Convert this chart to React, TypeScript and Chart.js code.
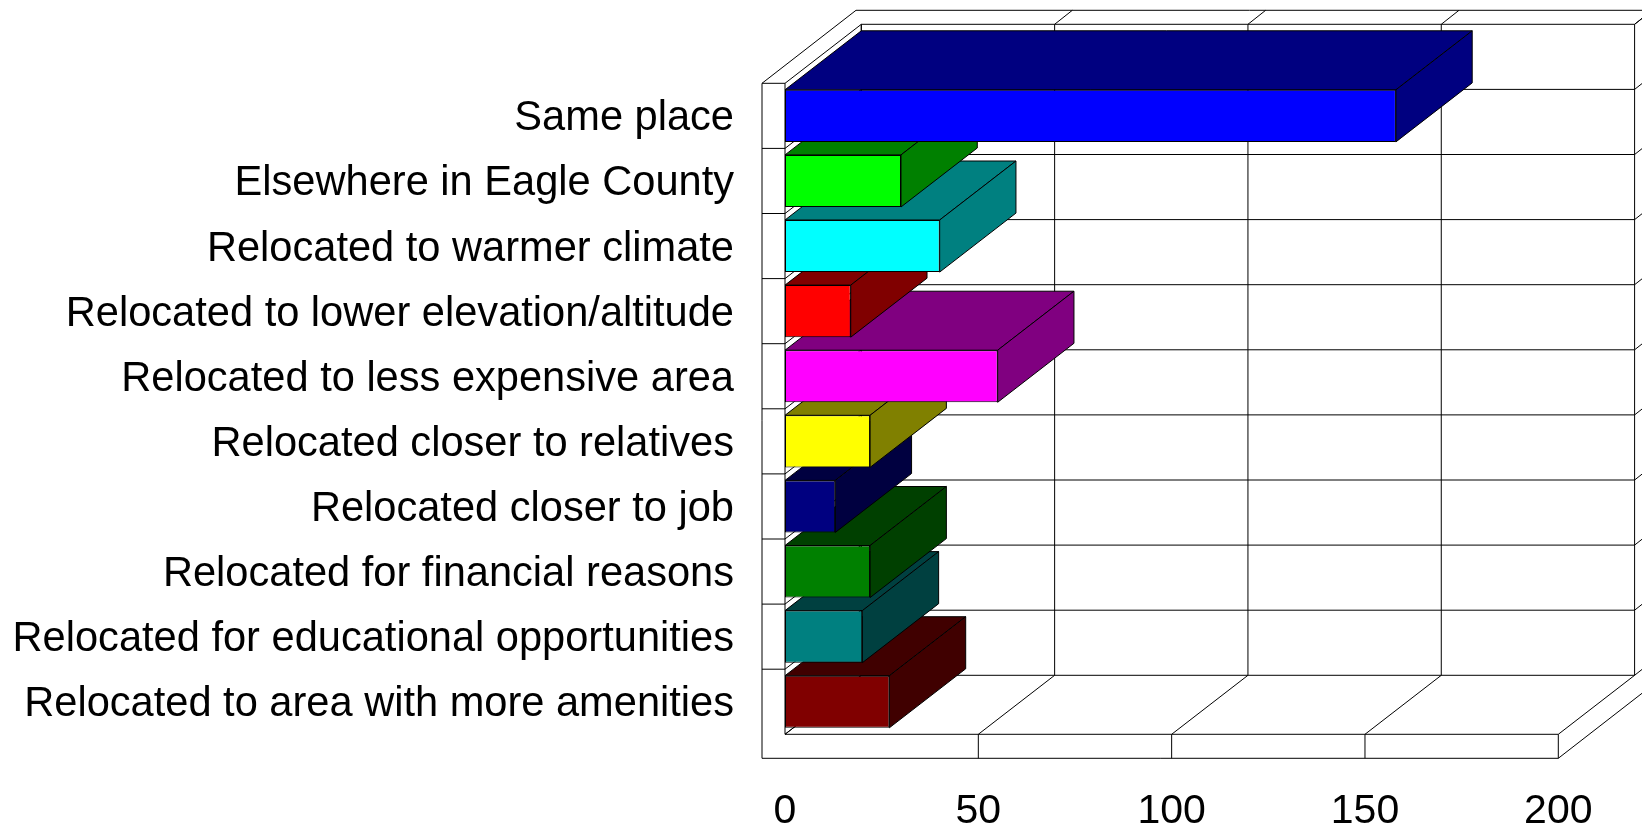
import { useEffect, useRef } from 'react';
import { Chart, registerables } from 'chart.js';

Chart.register(...registerables);

const categories = [
  'Same place',
  'Elsewhere in Eagle County',
  'Relocated to warmer climate',
  'Relocated to lower elevation/altitude',
  'Relocated to less expensive area',
  'Relocated closer to relatives',
  'Relocated closer to job',
  'Relocated for financial reasons',
  'Relocated for educational opportunities',
  'Relocated to area with more amenities',
];
const values = [158, 30, 40, 17, 55, 22, 13, 22, 20, 27];
const xTicks = [0, 50, 100, 150, 200];

const frontColors = ['#0000FF', '#00FF00', '#00FFFF', '#FF0000', '#FF00FF', '#FFFF00', '#000080', '#008000', '#008080', '#800000'];
const shadeColors = ['#000080', '#008000', '#008080', '#800000', '#800080', '#808000', '#000040', '#004000', '#004040', '#400000'];

// projection of the depth axis (pixels)
const DX = 76.3;
const DY = 59;
const WALL = 23;
const FLOOR = 24;
const BDX = 17.7;
const BDY = 14;

const FONT = "'Liberation Sans', Arial, sans-serif";

const box3d = {
  id: 'box3d',
  beforeDatasetsDraw(chart: any) {
    const { ctx, chartArea: ca, scales } = chart;
    const xs = scales.x;
    const ys = scales.y;
    const L = ca.left;
    const R = ca.right;
    const T = ca.top;
    const B = ca.bottom;
    const n = categories.length;
    const bound = (k: number) => ys.getPixelForValue(k - 0.5);
    ctx.save();
    ctx.strokeStyle = '#000';
    ctx.lineWidth = 1;
    const line = (x1: number, y1: number, x2: number, y2: number) => {
      ctx.beginPath();
      ctx.moveTo(x1, y1);
      ctx.lineTo(x2, y2);
      ctx.stroke();
    };
    const tickPx = xTicks.map((v) => xs.getPixelForValue(v));

    // back wall horizontal lines
    for (let k = 0; k <= n; k++) {
      const yy = bound(k) - DY;
      line(L + DX, yy, R + DX, yy);
      // right side thickness of back wall
      line(R + DX, yy, R + DX + BDX, yy - BDY);
    }
    // back wall vertical grid lines + top thickness
    tickPx.forEach((px, i) => {
      line(px + DX, T - DY, px + DX, B - DY);
      if (i > 0) line(px + DX, T - DY, px + DX + BDX, T - DY - BDY);
      // floor top diagonals
      line(px, B, px + DX, B - DY);
      // floor front verticals
      if (i > 0) line(px, B, px, B + FLOOR);
    });
    // back wall outer top
    line(L - WALL + DX + BDX, T - DY - BDY, R + DX + BDX + 40, T - DY - BDY);
    // left wall front face
    line(L - WALL, T, L - WALL, B + FLOOR);
    line(L - WALL, T, L, T);
    line(L, T, L, B);
    for (let k = 1; k < n; k++) line(L - WALL, bound(k), L, bound(k));
    // left wall inner face diagonals
    for (let k = 0; k <= n; k++) line(L, bound(k), L + DX, bound(k) - DY);
    line(L + DX, T - DY, L + DX, B - DY);
    // left wall top outer edge
    line(L - WALL, T, L - WALL + DX + BDX, T - DY - BDY);
    // floor front face
    line(L, B, R, B);
    line(L - WALL, B + FLOOR, R, B + FLOOR);
    // floor right side
    line(R, B + FLOOR, R + DX + BDX, B + FLOOR - DY - BDY);

    // bar top and side faces, from the bottom category upwards
    const meta = chart.getDatasetMeta(0);
    ctx.lineJoin = 'miter';
    for (let i = meta.data.length - 1; i >= 0; i--) {
      const el = meta.data[i];
      const { x, y, base, height } = el.getProps(['x', 'y', 'base', 'height'], true);
      const top = y - height / 2;
      const bot = y + height / 2;
      ctx.fillStyle = shadeColors[i];
      // top face
      ctx.beginPath();
      ctx.moveTo(base, top);
      ctx.lineTo(x, top);
      ctx.lineTo(x + DX, top - DY);
      ctx.lineTo(base + DX, top - DY);
      ctx.closePath();
      ctx.fill();
      ctx.stroke();
      // side face
      ctx.beginPath();
      ctx.moveTo(x, top);
      ctx.lineTo(x + DX, top - DY);
      ctx.lineTo(x + DX, bot - DY);
      ctx.lineTo(x, bot);
      ctx.closePath();
      ctx.fill();
      ctx.stroke();
    }
    ctx.restore();
  },
};

export default function App() {
  const ref = useRef<HTMLCanvasElement>(null);
  useEffect(() => {
    if (!ref.current) return;
    const chart = new Chart(ref.current, {
      type: 'bar',
      data: {
        labels: categories,
        datasets: [
          {
            data: values,
            backgroundColor: frontColors,
            borderColor: '#000',
            borderWidth: 1,
            borderSkipped: false,
            categoryPercentage: 0.8,
            barPercentage: 1,
          },
        ],
      },
      options: {
        indexAxis: 'y',
        responsive: false,
        animation: false,
        devicePixelRatio: 1,
        layout: { padding: { left: 0, top: 83.3, right: 83.7, bottom: 0 } },
        plugins: { legend: { display: false }, tooltip: { enabled: false }, title: { display: false } },
        scales: {
          x: {
            type: 'linear',
            min: 0,
            max: 200,
            grid: { display: false, drawTicks: false },
            border: { display: false },
            afterBuildTicks: (s: any) => {
              s.ticks = xTicks.map((v) => ({ value: v }));
            },
            afterFit: (s: any) => {
              s.height = 95.7;
              s.paddingLeft = 0;
              s.paddingRight = 0;
            },
            ticks: {
              autoSkip: false,
              maxRotation: 0,
              padding: 52.5,
              color: '#000',
              font: { family: FONT, size: 41 },
            },
          },
          y: {
            type: 'category',
            grid: { display: false, drawTicks: false },
            border: { display: false },
            afterFit: (s: any) => {
              s.width = 785;
              s.paddingTop = 0;
              s.paddingBottom = 0;
            },
            ticks: {
              autoSkip: false,
              padding: 51,
              labelOffset: 3,
              color: '#000',
              font: { family: FONT, size: 41.6 },
            },
          },
        },
      },
      plugins: [box3d],
    });
    return () => chart.destroy();
  }, []);
  return (
    <div style={{ position: 'fixed', left: 0, top: 0, width: 1642, height: 830, background: '#fff' }}>
      <canvas ref={ref} width={1642} height={830} style={{ display: 'block' }} />
    </div>
  );
}
